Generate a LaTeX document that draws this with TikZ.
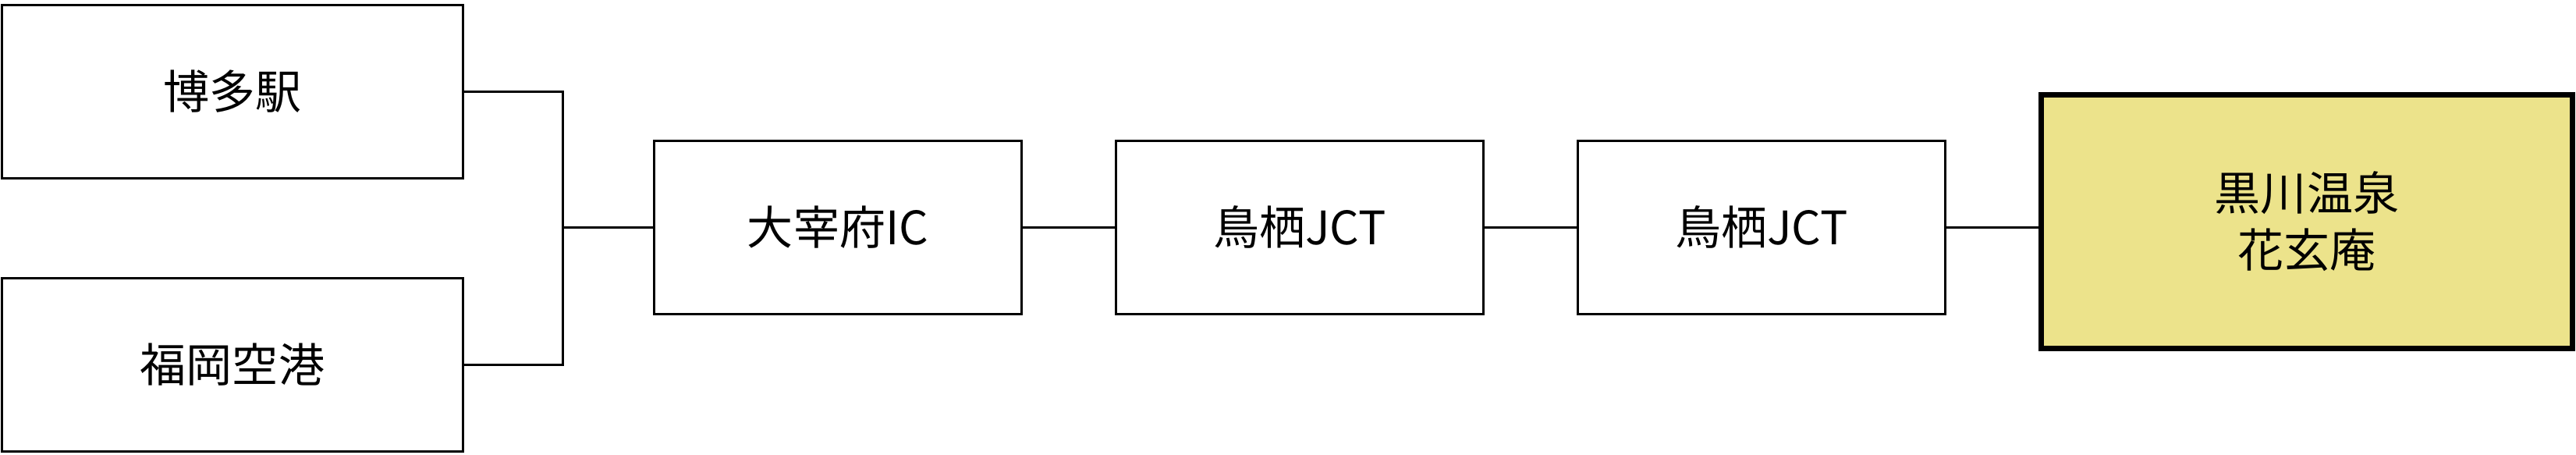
\documentclass[tikz,border=0pt]{standalone}
\usepackage{fontspec}
\setmainfont{Noto Sans CJK JP}
\usepackage{tikz}
\usetikzlibrary{arrows,positioning}
\definecolor{goalyellow}{RGB}{236,227,139}

\begin{document}
\begin{tikzpicture}[-,line width=0.03cm,node distance=1.18cm,font=\fontsize{16.8}{20.6}\selectfont]
\tikzstyle{stn}=[draw=black,fill=white,text=black,minimum width=4.71cm,minimum height=2.22cm,inner sep=0pt,align=center]
\tikzstyle{start}=[stn,minimum width=5.91cm]
\tikzstyle{goal}=[stn,fill=goalyellow,line width=0.07cm,minimum width=6.81cm,minimum height=3.25cm]
\useasboundingbox (0,0) rectangle (33.02,5.82);

\node[start]   (Hakata)   at (2.98,4.645)           {博多駅};
\node[start]   (Airport)  [below=1.25cm of Hakata]  {福岡空港};
\coordinate    (Fork)     at (7.21,2.91);
\node[stn]     (Dazaifu)  [right=1.16cm of Fork]    {大宰府IC};
\node[stn]     (TosuA)    [right=of Dazaifu]        {鳥栖JCT};
\node[stn]     (TosuB)    [right=of TosuA]          {鳥栖JCT};
\node[goal]    (Kurokawa) [right=of TosuB,yshift=0.075cm] {黒川温泉\\花玄庵};

\draw (Hakata.east) -- (Hakata.east -| Fork) -- (Airport.east -| Fork) -- (Airport.east);
\path (Fork)  edge (Dazaifu.west)
      (Dazaifu) edge (TosuA)
      (TosuA) edge (TosuB)
      (TosuB.east) edge (TosuB.east -| Kurokawa.west);
\end{tikzpicture}
\end{document}
